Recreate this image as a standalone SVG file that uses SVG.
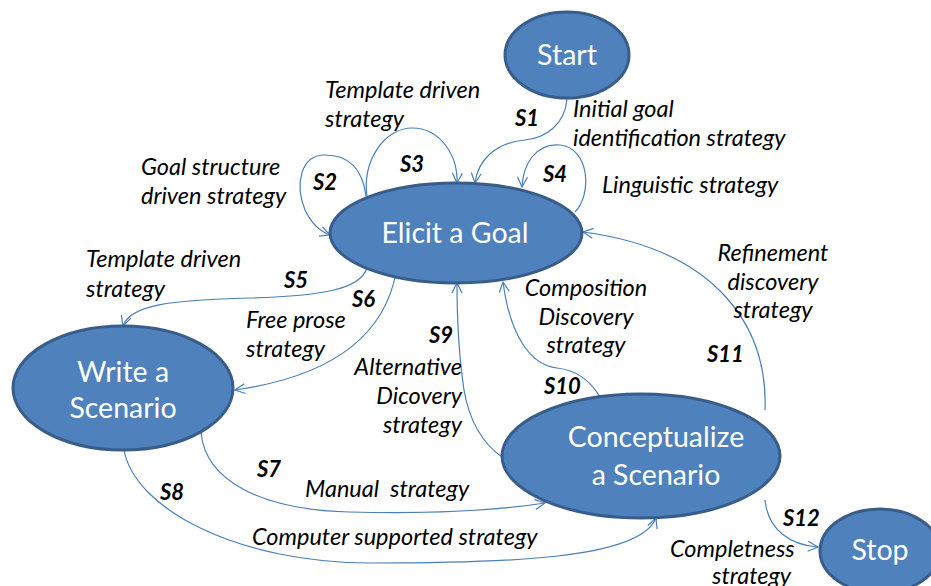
<svg xmlns="http://www.w3.org/2000/svg" width="931" height="586" viewBox="0 0 931 586">
<style>
.node{fill:#4f81bd;stroke:#385d8a;stroke-width:3}
.nt{font-family:Lato,"Open Sans",sans-serif;font-size:28.5px;fill:#ffffff;text-anchor:middle}
.lb{font-family:Lato,"Open Sans",sans-serif;font-size:23.5px;font-style:italic;fill:#000000;white-space:pre}
.sl{font-family:Lato,"Open Sans",sans-serif;font-size:22px;font-style:italic;font-weight:bold;fill:#000000}
.e{fill:none;stroke:#4a7ebb;stroke-width:1.2;marker-end:url(#ah)}
</style>
<defs>
<marker id="ah" viewBox="0 0 12 12" refX="11" refY="6" markerWidth="12" markerHeight="12" markerUnits="userSpaceOnUse" orient="auto">
<polyline points="1,1 11,6 1,11" fill="none" stroke="#4a7ebb" stroke-width="1.2"/>
</marker>
</defs>
<rect width="931" height="586" fill="#ffffff"/>
<g id="connectors">
<path class="e" d="M567,99 C565,125 545,138 525,140 C495,143 478,160 475,183"/>
<path class="e" d="M366,196 C362,165 345,155 325,155 C300,155 295,185 305,210 C312,225 322,232 330,235"/>
<path class="e" d="M367,197 C362,160 385,128 412,128 C440,128 458,155 457,183"/>
<path class="e" d="M575,212 C592,195 590,148 560,145 C535,143 523,165 522,187"/>
<path class="e" d="M367,268 C360,290 320,296 250,298 C170,300 130,305 123,326"/>
<path class="e" d="M396,273 C385,330 340,375 235,390"/>
<path class="e" d="M201,432 C205,480 260,510 350,512 C430,514 500,510 545,503"/>
<path class="e" d="M124,450 C135,510 240,563 370,563 C500,563 640,560 656,518"/>
<path class="e" d="M502,457 C485,445 470,425 464,390 C458,350 457,310 457,283"/>
<path class="e" d="M600,397 C590,380 575,370 557,368 C530,365 510,335 503,282"/>
<path class="e" d="M765,410 C768,330 720,250 583,232"/>
<path class="e" d="M765,500 C768,530 790,545 818,547"/>
</g>
<g id="start"><ellipse class="node" cx="567" cy="55" rx="62" ry="43"/><text class="nt" x="567" y="65">Start</text></g>
<g id="elicit"><ellipse class="node" cx="456" cy="233" rx="126" ry="50"/><text class="nt" x="455" y="243">Elicit a Goal</text></g>
<g id="write"><ellipse class="node" cx="123" cy="388" rx="110" ry="62"/><text class="nt" x="123" y="382">Write a</text><text class="nt" x="123" y="418">Scenario</text></g>
<g id="concept"><ellipse class="node" cx="641" cy="456" rx="139" ry="62"/><text class="nt" x="656" y="447">Conceptualize</text><text class="nt" x="656" y="485">a Scenario</text></g>
<g id="stop"><ellipse class="node" cx="880" cy="551" rx="60" ry="42"/><text class="nt" x="880" y="560">Stop</text></g>
<g id="labels">
<text class="lb" x="325" y="98">Template driven</text>
<text class="lb" x="325" y="127">strategy</text>
<text class="sl" x="515" y="126">S1</text>
<text class="lb" x="573" y="117">Initial goal</text>
<text class="lb" x="573" y="146">identification strategy</text>
<text class="sl" x="400" y="172">S3</text>
<text class="sl" x="543" y="182">S4</text>
<text class="lb" x="602" y="193">Linguistic strategy</text>
<text class="lb" x="141" y="175">Goal structure</text>
<text class="lb" x="141" y="204">driven strategy</text>
<text class="sl" x="313" y="190">S2</text>
<text class="lb" x="86" y="267">Template driven</text>
<text class="lb" x="86" y="297">strategy</text>
<text class="sl" x="284" y="288">S5</text>
<text class="sl" x="352" y="307">S6</text>
<text class="lb" x="246" y="328">Free prose</text>
<text class="lb" x="246" y="357">strategy</text>
<text class="sl" x="429" y="343">S9</text>
<text class="lb" x="462" y="375" text-anchor="end">Alternative</text>
<text class="lb" x="462" y="404" text-anchor="end">Dicovery</text>
<text class="lb" x="462" y="433" text-anchor="end">strategy</text>
<text class="lb" x="586" y="296" text-anchor="middle">Composition</text>
<text class="lb" x="586" y="325" text-anchor="middle">Discovery</text>
<text class="lb" x="586" y="353" text-anchor="middle">strategy</text>
<text class="sl" x="544" y="394">S10</text>
<text class="lb" x="773" y="261" text-anchor="middle">Refinement</text>
<text class="lb" x="773" y="290" text-anchor="middle">discovery</text>
<text class="lb" x="773" y="318" text-anchor="middle">strategy</text>
<text class="sl" x="707" y="362">S11</text>
<text class="sl" x="257" y="477">S7</text>
<text class="lb" x="305" y="497">Manual  strategy</text>
<text class="sl" x="160" y="500">S8</text>
<text class="lb" x="252" y="545">Computer supported strategy</text>
<text class="sl" x="783" y="526">S12</text>
<text class="lb" x="670" y="557">Completness</text>
<text class="lb" x="712" y="584">strategy</text>
</g>
</svg>
